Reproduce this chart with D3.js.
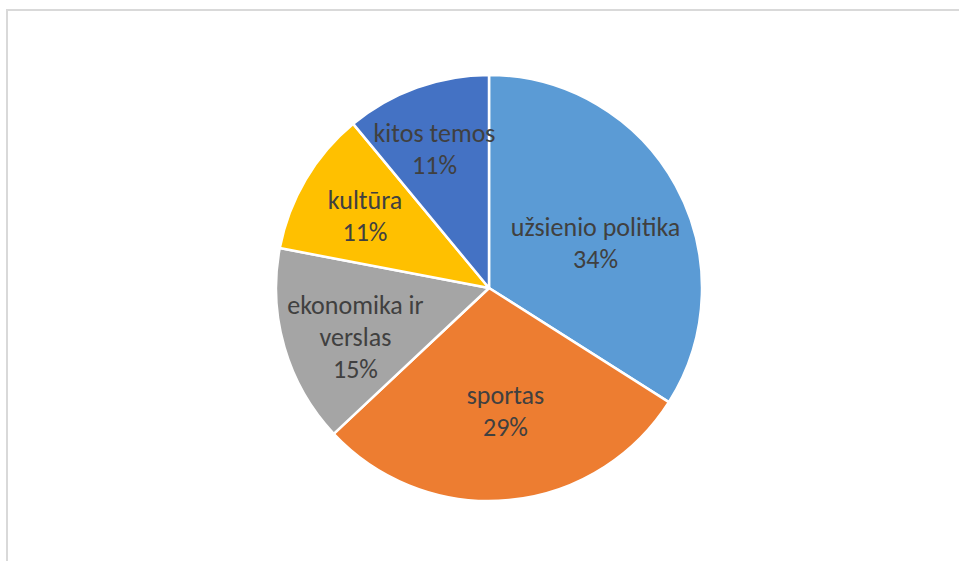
<!DOCTYPE html>
<html><head><meta charset="utf-8">
<script src="https://cdn.jsdelivr.net/npm/d3@7/dist/d3.min.js"></script>
<style>html,body{margin:0;padding:0;background:#fff;}svg{display:block;}</style>
</head><body>
<svg id="chart" width="959" height="561"></svg>
<script>
const categories = ["užsienio politika", "sportas", "ekonomika ir verslas", "kultūra", "kitos temos"];
const labelLines = [["užsienio politika"], ["sportas"], ["ekonomika ir", "verslas"], ["kultūra"], ["kitos temos"]];
const values = [34, 29, 15, 11, 11];
const colors = ["#5B9BD5", "#ED7D31", "#A5A5A5", "#FFC000", "#4472C4"];
// label placement: radius fraction and angular offset (deg) from slice mid-angle
const labelRadiusFrac = [0.543, 0.583, 0.668, 0.673, 0.701];
const labelAngleOffset = [5.9, -2.2, -3.95, -0.5, -1.6];

const svg = d3.select("#chart");
svg.append("rect").attr("x", 7).attr("y", 10).attr("width", 2000).attr("height", 2000)
  .attr("fill", "none").attr("stroke", "#d9d9d9").attr("stroke-width", 2);

const cx = 489, cy = 288, R = 213;
const g = svg.append("g").attr("transform", `translate(${cx},${cy})`);
const pie = d3.pie().sort(null).value(d => d)(values);
const arc = d3.arc().innerRadius(0).outerRadius(R);
g.selectAll("path").data(pie).join("path")
  .attr("d", arc).attr("fill", (d, i) => colors[i])
  .attr("stroke", "#fff").attr("stroke-width", 2.5).attr("stroke-linejoin", "round");

const total = d3.sum(values);
const fs = 26, lh = 32;
pie.forEach((d, i) => {
  const a = (d.startAngle + d.endAngle) / 2 + labelAngleOffset[i] * Math.PI / 180;
  const r = R * labelRadiusFrac[i];
  const x = r * Math.sin(a), y = -r * Math.cos(a);
  const lines = labelLines[i].concat([Math.round(values[i] / total * 100) + "%"]);
  const t = g.append("text").attr("text-anchor", "middle")
    .attr("font-family", "Carlito, Lato, 'Open Sans', sans-serif")
    .attr("font-size", fs).attr("fill", "#404040");
  const first = y - (lines.length - 1) * lh / 2 + fs * 0.33;
  lines.forEach((s, j) => t.append("tspan").attr("x", x).attr("y", first + j * lh).text(s));
});
</script>
</body></html>
